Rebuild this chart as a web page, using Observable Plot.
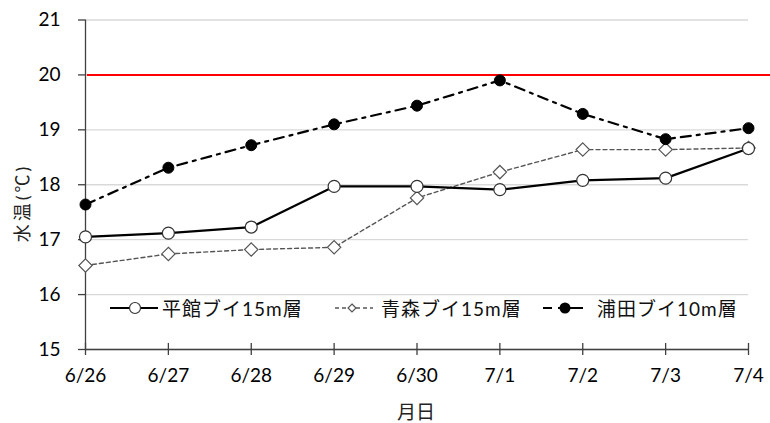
<!DOCTYPE html>
<html>
<head>
<meta charset="utf-8">
<script src="https://cdn.jsdelivr.net/npm/d3@7"></script>
<script src="https://cdn.jsdelivr.net/npm/@observablehq/plot@0.6"></script>
<style>
  html, body { margin: 0; padding: 0; background: #fff; }
  #chart { width: 770px; height: 423px; }
</style>
</head>
<body>
<div id="chart"></div>
<script>
const dates = ["6/26", "6/27", "6/28", "6/29", "6/30", "7/1", "7/2", "7/3", "7/4"];
const tairadate = [17.05, 17.12, 17.23, 17.97, 17.97, 17.91, 18.08, 18.12, 18.66];
const aomori = [16.53, 16.74, 16.82, 16.86, 17.76, 18.23, 18.64, 18.64, 18.67];
const urata = [17.64, 18.31, 18.72, 19.10, 19.44, 19.90, 19.29, 18.83, 19.03];
const yTicks = [15, 16, 17, 18, 19, 20, 21];
const threshold = 20;
const seriesNames = ["平館ブイ15m層", "青森ブイ15m層", "浦田ブイ10m層"];
const xLabel = "月日";
const yLabel = "水温(℃)";

const idx = dates.map((d, i) => i);
const rows = (vals) => vals.map((v, i) => ({ x: i, y: v }));
const tRows = rows(tairadate), aRows = rows(aomori), uRows = rows(urata);

const font = "Lato, 'Noto Sans CJK JP', sans-serif";

const plot = Plot.plot({
  width: 770,
  height: 423,
  marginLeft: 85,
  marginRight: 22,
  marginTop: 19.5,
  marginBottom: 74,
  style: { fontFamily: font, fontSize: "19px", color: "#000", background: "#fff" },
  x: { type: "linear", domain: [0, dates.length - 1] },
  y: { domain: [15, 21] },
  marks: [
    Plot.gridY(yTicks, { stroke: "#d9d9d9", strokeOpacity: 1, strokeWidth: 1.3 }),
    Plot.ruleY([threshold], { stroke: "#ff0000", strokeWidth: 2, insetLeft: 2, insetRight: -22 }),
    Plot.ruleX([0], { stroke: "#404040", strokeWidth: 1.3 }),
    Plot.ruleY([15], { stroke: "#404040", strokeWidth: 1.3 }),
    Plot.axisY({ ticks: yTicks, tickSize: 7, tickPadding: 18, tickFormat: d => String(d), label: null, stroke: "#404040", strokeWidth: 1.3, fill: "#000" }),
    Plot.axisX({ ticks: idx, tickSize: 6, tickPadding: 13, tickFormat: i => dates[i], label: null, stroke: "#404040", strokeWidth: 1.3, fill: "#000" }),
    Plot.ruleX(idx, { x: d => d, y1: 15, y2: 15.11, stroke: "#404040", strokeWidth: 1.3 }),
    // 青森 dashed gray
    Plot.line(aRows, { x: "x", y: "y", stroke: "#555", strokeWidth: 1.4, strokeDasharray: "4,3" }),
    // 平館 solid
    Plot.line(tRows, { x: "x", y: "y", stroke: "#000", strokeWidth: 2.2 }),
    // 浦田 dash-dot
    Plot.line(uRows, { x: "x", y: "y", stroke: "#000", strokeWidth: 2.2, strokeDasharray: "10,6,3,6" }),
    Plot.dot(aRows, { x: "x", y: "y", symbol: "diamond2", r: 6, stroke: "#555", strokeWidth: 1.2, fill: "#fff" }),
    Plot.dot(tRows, { x: "x", y: "y", symbol: "circle", r: 6, stroke: "#333", strokeWidth: 1.2, fill: "#fff" }),
    Plot.dot(uRows, { x: "x", y: "y", symbol: "circle", r: 5.5, stroke: "#000", strokeWidth: 1, fill: "#000" })
  ]
});

document.getElementById("chart").appendChild(plot);

// Labels and legend drawn into the SVG
const svg = d3.select(plot);
svg.append("text")
  .attr("transform", "translate(22,203) rotate(-90)")
  .attr("text-anchor", "middle").attr("dominant-baseline", "central")
  .style("font-family", font).style("font-size", "18px").style("letter-spacing", "3px").attr("fill", "#222")
  .text(yLabel);
svg.append("text")
  .attr("x", 416).attr("y", 411)
  .attr("text-anchor", "middle").attr("dominant-baseline", "central")
  .style("font-family", font).style("font-size", "19px").attr("fill", "#222")
  .text(xLabel);

const lg = svg.append("g").style("font-family", font).style("font-size", "19px").attr("text-anchor", "start");
const ly = 308;
// item 1
lg.append("line").attr("x1", 110).attr("x2", 158).attr("y1", ly).attr("y2", ly).attr("stroke", "#000").attr("stroke-width", 2.2);
lg.append("circle").attr("cx", 135).attr("cy", ly).attr("r", 5.5).attr("fill", "#fff").attr("stroke", "#333").attr("stroke-width", 1.2);
lg.append("text").attr("x", 162).attr("y", ly).attr("text-anchor", "start").attr("dominant-baseline", "central").style("letter-spacing", "1px").attr("fill", "#111").text(seriesNames[0]);
// item 2
lg.append("line").attr("x1", 335).attr("x2", 373).attr("y1", ly).attr("y2", ly).attr("stroke", "#555").attr("stroke-width", 1.4).attr("stroke-dasharray", "4,3");
lg.append("path").attr("d", d3.symbol(d3.symbolDiamond2, 40)()).attr("transform", `translate(352,${ly})`).attr("fill", "#fff").attr("stroke", "#555").attr("stroke-width", 1.2);
lg.append("text").attr("x", 381).attr("y", ly).attr("text-anchor", "start").attr("dominant-baseline", "central").style("letter-spacing", "1px").attr("fill", "#111").text(seriesNames[1]);
// item 3
lg.append("line").attr("x1", 543).attr("x2", 583).attr("y1", ly).attr("y2", ly).attr("stroke", "#000").attr("stroke-width", 2.2).attr("stroke-dasharray", "9,6,25");
lg.append("circle").attr("cx", 565).attr("cy", ly).attr("r", 5.5).attr("fill", "#000");
lg.append("text").attr("x", 597).attr("y", ly).attr("text-anchor", "start").attr("dominant-baseline", "central").style("letter-spacing", "1px").attr("fill", "#111").text(seriesNames[2]);
</script>
</body>
</html>
